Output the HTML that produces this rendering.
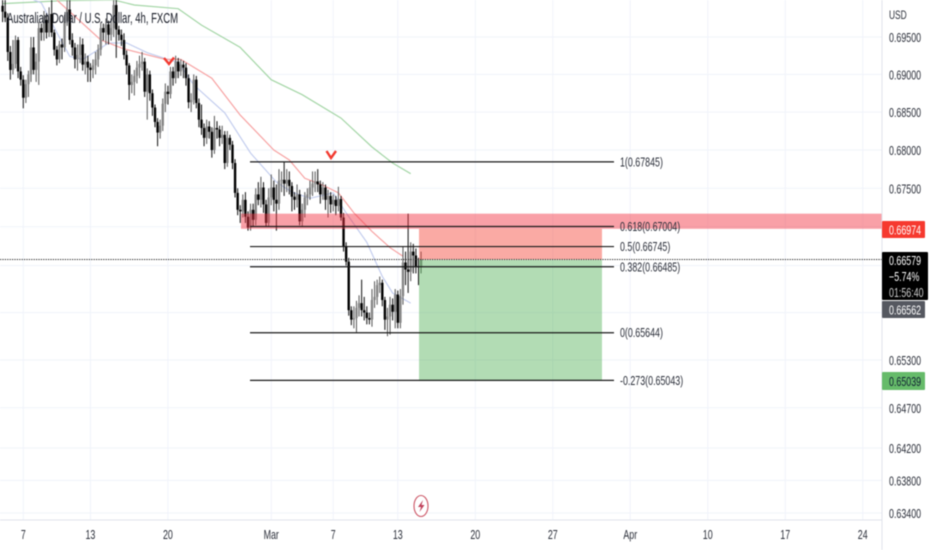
<!DOCTYPE html>
<html>
<head>
<meta charset="utf-8">
<style>
html,body{margin:0;padding:0;background:#fff;width:932px;height:550px;overflow:hidden}
#chart{display:block;position:absolute;left:0;top:0;filter:blur(0.5px)}
text{font-family:"Liberation Sans",sans-serif;fill:#2a2e39}
</style>
</head>
<body>
<svg id="chart" xmlns="http://www.w3.org/2000/svg" width="932" height="550" viewBox="0 0 932 550"></svg>
<script>
const closes=[.6984,.6976,.6930,.6906,.6914,.6946,.6904,.6893,.6869,.6887,.6900,.6936,.6906,.6917,.6962,.6956,.6973,.6956,.6981,.6956,.6933,.6920,.6940,.6936,.6971,.6987,.6946,.6936,.6920,.6926,.6940,.6913,.6917,.6909,.6906,.6912,.6920,.6933,.6962,.6956,.6967,.6953,.6962,.6993,.6960,.6953,.6946,.6926,.6912,.6886,.6890,.6898,.6909,.6914,.6917,.6877,.6900,.6875,.6856,.6837,.6823,.6832,.6861,.6877,.6874,.6904,.6895,.6917,.6904,.6913,.6909,.6895,.6863,.6866,.6893,.6862,.6840,.6829,.6816,.6831,.6824,.6800,.6829,.6827,.6816,.6820,.6783,.6816,.6807,.6783,.6744,.6722,.6720,.6735,.6713,.6699,.6722,.6709,.6742,.6735,.6751,.6729,.6705,.6738,.6751,.6735,.6730,.6760,.6761,.6756,.6761,.6753,.6739,.6735,.6742,.6707,.6722,.6738,.6742,.6751,.6756,.6759,.6755,.6742,.6751,.6735,.6740,.6729,.6735,.6727,.6736,.6712,.6674,.6655,.6593,.6581,.6583,.6596,.6602,.6593,.6590,.6583,.6581,.6606,.6610,.6625,.6628,.6606,.6581,.6585,.6600,.6591,.6613,.6577,.6611,.6654,.6645,.6642,.6668,.6663,.6649,.6648,.6658];
const highs=[.7000,.7000,.6982,.6938,.6946,.6952,.6950,.6910,.6899,.6893,.6905,.6950,.6950,.6928,.6970,.6968,.6985,.6982,.6990,.7000,.6960,.6938,.6945,.6948,.6980,.7000,.7000,.6955,.6942,.6940,.6950,.6948,.6928,.6925,.6915,.6920,.6930,.6940,.6970,.6968,.6975,.6972,.6975,.7000,.7000,.6965,.6960,.6955,.6932,.6915,.6900,.6906,.6918,.6925,.6930,.6922,.6908,.6905,.6880,.6860,.6842,.6840,.6868,.6888,.6885,.6910,.6910,.6925,.6922,.6920,.6918,.6915,.6900,.6875,.6900,.6898,.6868,.6860,.6835,.6840,.6838,.6830,.6845,.6838,.6832,.6832,.6825,.6825,.6820,.6812,.6788,.6750,.6728,.6742,.6745,.6720,.6730,.6730,.6750,.6758,.6765,.6758,.6735,.6750,.6768,.6760,.6755,.6775,.6772,.6785,.6775,.6772,.6758,.6745,.6755,.6748,.6730,.6745,.6750,.6760,.6772,.6772,.6775,.6760,.6758,.6755,.6748,.6745,.6742,.6740,.6752,.6740,.6718,.6680,.6660,.6598,.6598,.6605,.6612,.6632,.6610,.6598,.6590,.6620,.6630,.6632,.6636,.6632,.6610,.6596,.6610,.6608,.6620,.6618,.6620,.6675,.6668,.6717,.6680,.6678,.6672,.6660,.6668];
const lows=[.6970,.6970,.6918,.6893,.6900,.6908,.6895,.6885,.6855,.6862,.6870,.6890,.6900,.6890,.6886,.6945,.6945,.6948,.6950,.6950,.6925,.6912,.6915,.6920,.6930,.6965,.6940,.6925,.6908,.6905,.6915,.6905,.6900,.6890,.6890,.6895,.6900,.6910,.6925,.6945,.6940,.6940,.6945,.6950,.6922,.6945,.6938,.6920,.6900,.6866,.6875,.6872,.6888,.6895,.6905,.6870,.6840,.6865,.6845,.6830,.6805,.6815,.6825,.6850,.6860,.6868,.6885,.6888,.6895,.6898,.6895,.6885,.6855,.6850,.6860,.6855,.6830,.6820,.6805,.6808,.6815,.6790,.6795,.6815,.6805,.6808,.6775,.6778,.6800,.6775,.6738,.6715,.6705,.6712,.6705,.6695,.6695,.6700,.6702,.6728,.6725,.6718,.6700,.6700,.6728,.6720,.6695,.6722,.6745,.6740,.6745,.6742,.6720,.6722,.6725,.6702,.6700,.6712,.6728,.6735,.6740,.6745,.6745,.6730,.6735,.6722,.6712,.6718,.6720,.6715,.6720,.6708,.6668,.6650,.6586,.6574,.6570,.6565,.6585,.6585,.6580,.6575,.6575,.6572,.6596,.6600,.6615,.6598,.6568,.6560,.6562,.6580,.6570,.6570,.6570,.6600,.6625,.6615,.6630,.6640,.6640,.6625,.6640];
const greenBars=[0,12,23,43,51,68,77,92,104,116,131,143,151,158];
const greenPrices=[.6995,.6997,.6999,.7000,.6993,.6988,.6966,.6936,.6893,.6873,.6842,.6804,.6783,.6769];
const redBars=[21,38,47,63,69,81,92,105,111,117,124,130,136,143,150,155];
const redPrices=[.7000,.6946,.6934,.6920,.6920,.6895,.6846,.6800,.6787,.6763,.6754,.6744,.6718,.6694,.6673,.6662];
const blueBars=[12,15,21,26,31,37,41,48,56,64,68,74,86,96,106,112,119,128,133,141,147,151,158];
const bluePrices=[.7000,.6996,.6956,.6924,.6920,.6933,.6942,.6942,.6929,.6920,.6916,.6886,.6849,.6796,.6758,.6745,.6737,.6744,.6718,.6680,.6636,.6615,.6602];
const priceTicks=[.695,.69,.685,.68,.675,.67,.665,.659,.653,.647,.642,.638,.634];
const priceTickLabels=["0.69500","0.69000","0.68500","0.68000","0.67500","","","","0.65300","0.64700","0.64200","0.63800","0.63400"];
const timeTickBars=[8,34,64,104,128,153,183,213,243,273,303,333];
const timeTickLabels=["7","13","20","Mar","7","13","20","27","Apr","10","17","24"];
const fibLevels=["1","0.618","0.5","0.382","0","-0.273"];
const fibPrices=[.67845,.67004,.66745,.66485,.65644,.65043];

const NS="http://www.w3.org/2000/svg";
const svg=document.getElementById("chart");
const plotRight=882,plotBottom=520;
function x(bar){return 2.6+2.583*bar;}
function y(price){return 37+5181*Math.log(.695/price);}
function add(tag,attrs,parent){
  const e=document.createElementNS(NS,tag);
  for(const k in attrs)e.setAttribute(k,attrs[k]);
  (parent||svg).appendChild(e);
  return e;
}
function squeeze(t,f){t.setAttribute("textLength",(t.getComputedTextLength()*(f||0.7)).toFixed(1));t.setAttribute("lengthAdjust","spacingAndGlyphs");}

// grid
priceTicks.forEach(function(p){
  const g=add("line",{x1:0,x2:plotRight,y1:y(p),y2:y(p),stroke:"#f0f3fa","stroke-width":1});
  
  
});
timeTickBars.forEach(function(b){
  const g=add("line",{x1:x(b),x2:x(b),y1:0,y2:plotBottom,stroke:"#f0f3fa","stroke-width":1});
  
  
});

// moving averages
function maLine(bars,prices,color,name){
  const pts=bars.map(function(b,i){return x(b).toFixed(1)+","+y(prices[i]).toFixed(1);}).join(" ");
  const l=add("polyline",{points:pts,fill:"none",stroke:color,"stroke-width":1.2});
  
  
}
maLine(greenBars,greenPrices,"#a5d6a7","green-moving-average");
maLine(blueBars,bluePrices,"#c3cdee","blue-moving-average");
maLine(redBars,redPrices,"#f7a3a3","red-moving-average");

// candles
closes.forEach(function(c,i){
  const o=i>0?closes[i-1]:c+.0008;
  const up=c>=o;
  const g=add("g",{});
  
  
  add("line",{x1:x(i),x2:x(i),y1:y(highs[i]),y2:y(lows[i]),stroke:up?"#555":"#111","stroke-width":1},g);
  add("rect",{x:x(i)-1.2,width:2.4,y:y(Math.max(o,c)),height:Math.max(1,Math.abs(y(o)-y(c))),fill:up?"#858585":"#000"},g);
});

// supply zone
const zone=add("rect",{x:241,width:plotRight-241,y:y(.6717),height:y(.66974)-y(.6717),fill:"#f23645","fill-opacity":.47});



// position tool
const entryPrice=.66579,stopPrice=.66974,targetPrice=.65039;
const stop=add("rect",{x:419,width:183,y:y(stopPrice),height:y(entryPrice)-y(stopPrice),fill:"#f44336","fill-opacity":.45});


const target=add("rect",{x:419,width:183,y:y(entryPrice)+.5,height:y(targetPrice)-y(entryPrice)-.5,fill:"#4caf50","fill-opacity":.43});



// fib levels
fibLevels.forEach(function(lv,i){
  const py=y(fibPrices[i]);
  const l=add("line",{x1:250,x2:614,y1:py,y2:py,stroke:"#1a1a1a","stroke-width":1.2});
  
  
  const t=add("text",{x:620,y:py+4.5,"font-size":12.5});
  
  
  t.textContent=lv+"("+fibPrices[i].toFixed(5)+")";
  squeeze(t,0.71);
});

// current price line
const cur=add("line",{x1:0,x2:plotRight,y1:y(entryPrice),y2:y(entryPrice),stroke:"#222","stroke-width":1,"stroke-dasharray":"1.2 1.2"});



// axis lines
const ax1=add("line",{x1:plotRight,x2:plotRight,y1:0,y2:550,stroke:"#e0e3eb","stroke-width":1});


const ax2=add("line",{x1:0,x2:plotRight,y1:plotBottom,y2:plotBottom,stroke:"#e0e3eb","stroke-width":1});



// price axis labels
priceTicks.forEach(function(p,i){
  if(!priceTickLabels[i])return;
  const t=add("text",{x:889,y:y(p)+5,"font-size":12.5});
  
  
  t.textContent=priceTickLabels[i];
  squeeze(t,0.71);
});
const usd=add("text",{x:889,y:19,"font-size":12});


usd.textContent="USD";
squeeze(usd,0.7);

// time axis labels
timeTickBars.forEach(function(b,i){
  const t=add("text",{x:x(b),y:539,"font-size":12.5,"text-anchor":"middle"});
  
  
  t.textContent=timeTickLabels[i];
  squeeze(t,0.71);
});

// title
const title=add("text",{x:7,y:23,"font-size":14.5,textLength:171,lengthAdjust:"spacingAndGlyphs"});


title.style.fill="#131722";
title.textContent="Australian Dollar / U.S. Dollar, 4h, FXCM";

// arrow marks
const mark1=add("polyline",{points:"164,58 169,64 174,57.5",fill:"none",stroke:"#f23a30","stroke-width":2.4});


const mark2=add("polyline",{points:"326.5,151 331,158 336,151",fill:"none",stroke:"#f23a30","stroke-width":2.4});



// lightning icon
const bolt=add("g",{});


add("ellipse",{cx:421,cy:506,rx:7,ry:10.5,fill:"#fff",stroke:"#cc5565","stroke-width":1.1},bolt);
add("polygon",{points:"423,500 418,507 421,507 419.5,512 424.5,505 421.5,505",fill:"#c0405a"},bolt);

// price tags
function tag(name,bx,by,bw,bh,fill,lines,textFills){
  const r=add("rect",{x:bx,y:by,width:bw,height:bh,rx:1,fill:fill});
  
  
  lines.forEach(function(s,i){
    const t=add("text",{x:889,y:by+(bh/lines.length)*i+(bh/lines.length)/2+4.8,"font-size":12.5});
    
    
    t.style.fill=textFills[i];
    t.textContent=s;
    squeeze(t,0.71);
  });
}
tag("stop-price",882,221,43,17,"#f6392f",["0.66974"],["#fff"]);
tag("last-price",882,252,46,48,"#000",["0.66579","−5.74%","01:56:40"],["#fff","#fff","#ccc"]);
tag("bid-price",882,301,43,17,"#555860",["0.66562"],["#fff"]);
tag("target-price",882,372,43,18,"#66bb6a",["0.65039"],["#123"]);
</script>
</body>
</html>
